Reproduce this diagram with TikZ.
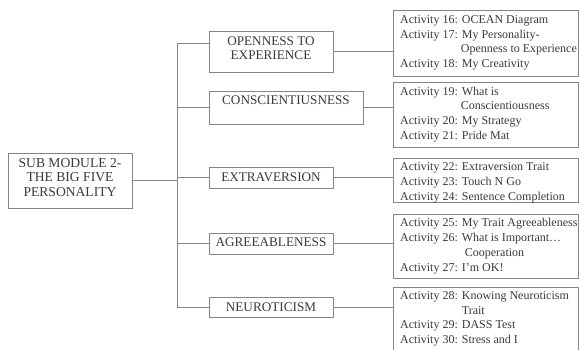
\documentclass[tikz,border=0pt]{standalone}
\usepackage{fontspec}
\setmainfont{Liberation Serif}
\definecolor{linegray}{HTML}{858585}
\definecolor{textgray}{HTML}{3A3A3A}
\begin{document}
\begin{tikzpicture}[x=1pt,y=-1pt,
  box/.style={draw=linegray, line width=0.8pt, inner sep=0pt},
  maintext/.style={font=\fontsize{13.6}{14.2}\selectfont, text=textgray, align=center, inner sep=0pt},
  cattext/.style={font=\fontsize{13.2}{13.6}\selectfont, text=textgray, align=center, inner sep=0pt},
  acttext/.style={font=\fontsize{12}{14.9}\selectfont, text=textgray, align=left, anchor=north west, inner sep=0pt},
  conn/.style={draw=linegray, line width=0.8pt}]
\clip (0,0) rectangle (579,349);
\fill[white] (0,0) rectangle (579,349);

% main box
\node[box, minimum width=124pt, minimum height=55pt] (main) at (70,180.5) {};
\node[maintext] (maint) at (70,177.5) {SUB MODULE 2-\\THE BIG FIVE\\PERSONALITY};

% category boxes
\node[box, minimum width=124pt, minimum height=41pt] (open) at (271,51.5) {};
\node[cattext] (opent) at (271,48) {OPENNESS TO\\EXPERIENCE};
\node[box, minimum width=154pt, minimum height=33pt] (consc) at (286,107.5) {};
\node[cattext] (consct) at (286,100) {CONSCIENTIUSNESS};
\node[box, minimum width=124pt, minimum height=21pt] (extra) at (271,177.5) {};
\node[cattext] (extrat) at (271,177.5) {EXTRAVERSION};
\node[box, minimum width=124pt, minimum height=21pt] (agree) at (271,243.5) {};
\node[cattext] (agreet) at (271,242.5) {AGREEABLENESS};
\node[box, minimum width=124pt, minimum height=20pt] (neuro) at (271,307) {};
\node[cattext] (neurot) at (271,307) {NEUROTICISM};

% activity boxes
\node[box, minimum width=185pt, minimum height=66pt] (a1) at (485.5,43) {};
\node[box, minimum width=185pt, minimum height=65pt] (a2) at (485.5,114.5) {};
\node[box, minimum width=185pt, minimum height=44pt] (a3) at (485.5,180) {};
\node[box, minimum width=185pt, minimum height=64pt] (a4) at (485.5,246) {};
\node[box, minimum width=185pt, minimum height=73pt] (a5) at (485.5,323.5) {};

\node[acttext] (a1t) at (400,15) {Activity 16: OCEAN Diagram\\Activity 17: My Personality-\\\hphantom{Activity 17:\ }Openness to Experience\\Activity 18: My Creativity};
\node[acttext] (a2t) at (400,86.5) {Activity 19: What is\\\hphantom{Activity 19:\ }Conscientiousness\\Activity 20: My Strategy\\Activity 21: Pride Mat};
\node[acttext] (a3t) at (400,162.5) {Activity 22: Extraversion Trait\\Activity 23: Touch N Go\\Activity 24: Sentence Completion};
\node[acttext] (a4t) at (400,218) {Activity 25: My Trait Agreeableness\\Activity 26: What is Important…\\\hphantom{Activity 26:\ }\hspace*{4pt}Cooperation\\Activity 27: I’m OK!};
\node[acttext] (a5t) at (400,291) {Activity 28: Knowing Neuroticism\\\hphantom{Activity 28:\ }\hspace*{1pt}Trait\\Activity 29: DASS Test\\Activity 30: Stress and I};

% connectors
\coordinate (tTop) at (177,43);
\coordinate (tBot) at (177,307);
\draw[conn] (tTop) -- (tBot);
\draw[conn] (main.east) -- (main.east -| tTop);
\draw[conn] (tTop) -- (tTop -| open.west);
\draw[conn] (consc.west -| tTop) -- (consc.west);
\draw[conn] (extra.west -| tTop) -- (extra.west);
\draw[conn] (agree.west -| tTop) -- (agree.west);
\draw[conn] (neuro.west -| tTop) -- (neuro.west);

\draw[conn] (open.east) -- (open.east -| a1.west);
\draw[conn] (consc.east) -- (consc.east -| a2.west);
\draw[conn] (extra.east) -- (extra.east -| a3.west);
\draw[conn] (agree.east) -- (agree.east -| a4.west);
\draw[conn] (neuro.east) -- (neuro.east -| a5.west);
\end{tikzpicture}
\end{document}
